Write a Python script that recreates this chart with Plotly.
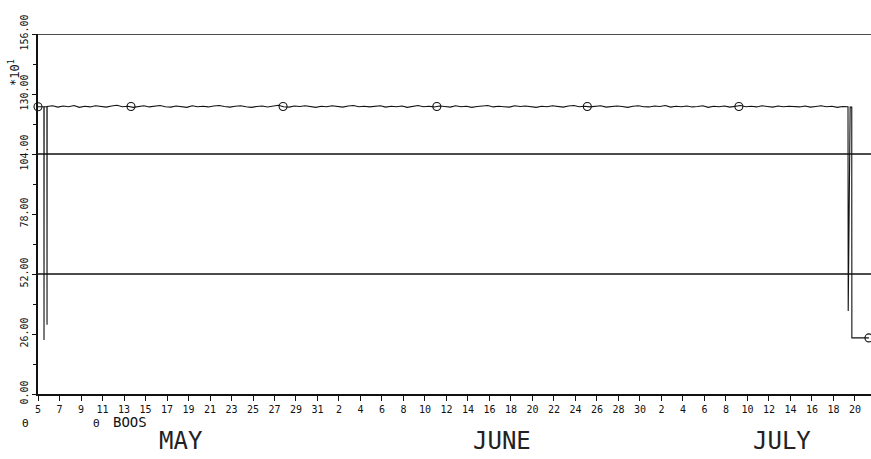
import plotly.graph_objects as go

# ---- data ----
may_days = [5, 7, 9, 11, 13, 15, 17, 19, 21, 23, 25, 27, 29, 31]
june_days = [2, 4, 6, 8, 10, 12, 14, 16, 18, 20, 22, 24, 26, 28, 30]
july_days = [2, 4, 6, 8, 10, 12, 14, 16, 18, 20]
month_names = ["MAY", "JUNE", "JULY"]
month_label_days = [13.3, 43.2, 69.2]

y_tick_values = [0, 26, 52, 78, 104, 130, 156]
y_tick_labels = ["0.00", "26.00", "52.00", "78.00", "104.00", "130.00", "156.00"]
y_minor_values = [13, 39, 65, 91, 117, 143]
ref_levels = [52, 104, 156]

# start transient (days since May 5, value)
start_days = [0.0, 0.55, 0.56, 0.57, 0.83, 0.84, 0.85]
start_vals = [124.5, 124.5, 23.4, 124.5, 124.5, 30.0, 124.6]

# steady signal, sampled every half day from day 0.85
steady_vals = [
    124.6, 124.9, 124.3, 124.8, 124.5, 125.0, 124.2, 124.7, 124.4, 124.9,
    124.6, 124.3, 124.8, 125.1, 124.5, 124.7, 124.2, 124.6, 124.9, 124.4,
    124.7, 125.0, 124.5, 124.3, 124.8, 124.6, 124.2, 124.9, 124.5, 124.7,
    124.4, 124.8, 125.0, 124.6, 124.3, 124.7, 124.9, 124.5, 124.2, 124.6,
    124.8, 124.4, 124.7, 125.1, 124.5, 124.3, 124.8, 124.6, 124.9, 124.4,
    124.2, 124.7, 124.5, 124.9, 124.6, 124.3, 124.8, 125.0, 124.5, 124.7,
    124.4, 124.6, 124.9, 124.3, 124.7, 124.5, 124.8, 124.2, 124.6, 125.0,
    124.5, 124.7, 124.4, 124.8, 124.6, 124.3, 124.9, 124.5, 124.7, 124.2,
    124.6, 124.8, 125.0, 124.4, 124.7, 124.5, 124.3, 124.9, 124.6, 124.8,
    124.4, 124.2, 124.7, 124.5, 124.9, 124.6, 124.3, 124.8, 125.0, 124.5,
    124.7, 124.4, 124.6, 124.9, 124.3, 124.5, 124.8, 124.6, 124.2, 124.7,
    124.9, 124.5, 124.4, 124.8, 124.6, 125.0, 124.3, 124.7, 124.5, 124.8,
    124.4, 124.6, 124.9, 124.2, 124.7, 124.5, 124.8, 124.3, 124.6, 125.0,
    124.5, 124.7, 124.4, 124.9, 124.6, 124.3, 124.8, 124.5, 124.7, 124.6,
    124.4, 124.8, 124.3, 124.6, 124.9, 124.5, 124.7, 124.2, 124.6, 124.5,
]
steady_start = 0.85
steady_step = 0.5

# end transient
end_days = [75.36, 75.37, 75.55, 75.7, 75.71, 77.3]
end_vals = [124.5, 36.0, 124.3, 124.3, 24.3, 24.3]

# circle markers on the trace
marker_days = [0.0, 8.65, 22.8, 37.1, 51.1, 65.2, 77.3]
marker_vals = [124.5, 124.6, 124.6, 124.6, 124.6, 124.6, 24.3]

x_max = 77.49

# ---- build ----
tick_days = ([d - 5 for d in may_days] + [26 + d for d in june_days]
             + [56 + d for d in july_days])
tick_text = [str(d) for d in may_days + june_days + july_days]

steady_days = [steady_start + steady_step * i for i in range(len(steady_vals))]
series_x = start_days + steady_days + end_days
series_y = start_vals + steady_vals + end_vals

fig = go.Figure()
for lvl in ref_levels:
    fig.add_trace(go.Scatter(x=[0, x_max], y=[lvl, lvl], mode="lines",
                             line=dict(color="#111", width=1.6),
                             hoverinfo="skip", showlegend=False))
fig.add_trace(go.Scatter(x=series_x, y=series_y, mode="lines",
                         line=dict(color="#111", width=1.1),
                         showlegend=False, cliponaxis=False))
fig.add_trace(go.Scatter(x=marker_days, y=marker_vals, mode="markers",
                         marker=dict(symbol="circle-open", size=8,
                                     color="#111", line=dict(width=1.1)),
                         showlegend=False, cliponaxis=False))

mono = "DejaVu Sans Mono"
fig.update_layout(
    width=871, height=459,
    margin=dict(l=38, r=0, t=34, b=65),
    paper_bgcolor="white", plot_bgcolor="white",
    font=dict(family=mono, color="#111"),
    xaxis=dict(range=[0, x_max], showgrid=False, zeroline=False,
               automargin=False,
               showline=True, linecolor="#111", linewidth=1.6,
               tickmode="array", tickvals=tick_days, ticktext=tick_text,
               ticks="outside", ticklen=5, tickcolor="#111", tickwidth=1,
               tickfont=dict(family=mono, size=10, color="#111")),
    yaxis=dict(range=[0, 156], showgrid=False, zeroline=False,
               automargin=False,
               showline=True, linecolor="#111", linewidth=1.6,
               tickmode="array", tickvals=y_tick_values, ticktext=y_tick_labels,
               ticks="outside", ticklen=4, tickcolor="#111", tickwidth=1,
               tickangle=-90,
               tickfont=dict(family=mono, size=10, color="#111"),
               minor=dict(tickmode="array", tickvals=y_minor_values,
                          ticks="outside", ticklen=3, tickcolor="#111",
                          showgrid=False)),
)

# month labels
for name, d in zip(month_names, month_label_days):
    fig.add_annotation(x=d, y=-0.131, xref="x", yref="paper", text=name,
                       showarrow=False, xanchor="center", yanchor="middle",
                       font=dict(family=mono, size=24, color="#222"))

fig.add_annotation(x=0.110, y=-0.078, xref="paper", yref="paper", text="BOOS",
                   showarrow=False, xanchor="center", yanchor="middle",
                   font=dict(family=mono, size=14, color="#111"))
for px in [-0.0156, 0.0708]:
    fig.add_annotation(x=px, y=-0.083, xref="paper", yref="paper", text="Θ",
                       showarrow=False, xanchor="center", yanchor="middle",
                       font=dict(family=mono, size=11, color="#111"))
fig.add_annotation(x=-0.029, y=0.894, xref="paper", yref="paper",
                   text="*10<sup>1</sup>", textangle=-90, showarrow=False,
                   xanchor="center", yanchor="middle",
                   font=dict(family=mono, size=12, color="#111"))

# remove the default page margin and scrollbars so the figure fills the window
fig.write_html(
    "out.html",
    config={"displayModeBar": False},
    post_script=("document.body.style.margin='0';"
                 "document.documentElement.style.overflow='hidden';"
                 "document.body.style.overflow='hidden';"),
)
